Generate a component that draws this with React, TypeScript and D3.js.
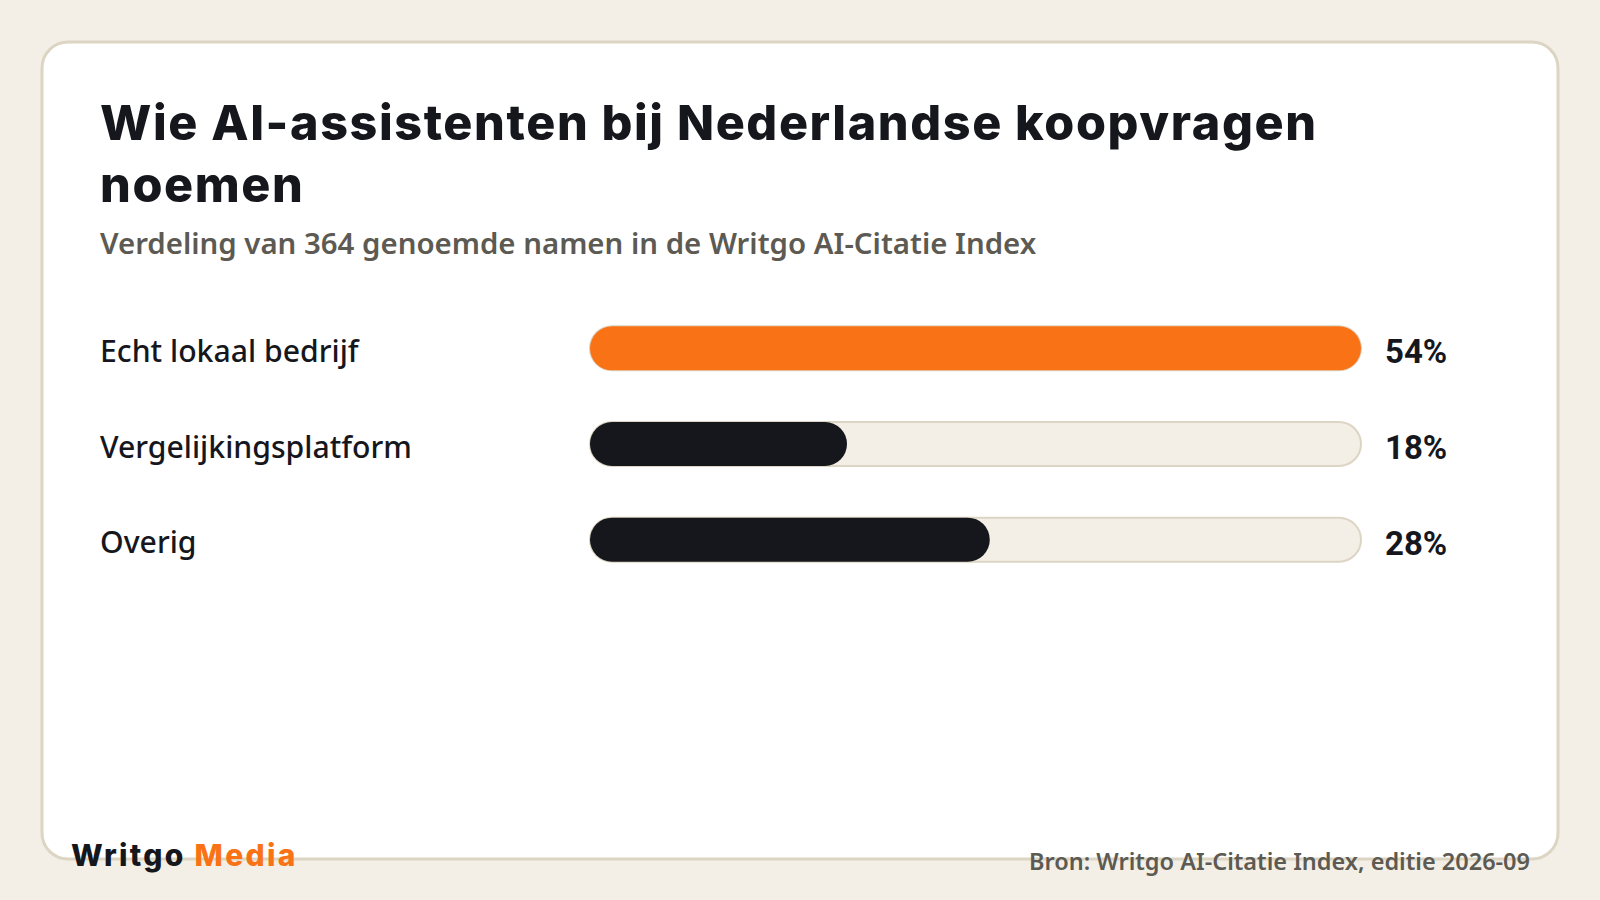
import React from "react";
import * as d3 from "d3";

const categories = ["Echt lokaal bedrijf", "Vergelijkingsplatform", "Overig"];
const shares = [54, 18, 28];
const valueLabels = ["54%", "18%", "28%"];
const titleLines = ["Wie AI-assistenten bij Nederlandse koopvragen", "noemen"];
const subtitle = "Verdeling van 364 genoemde namen in de Writgo AI-Citatie Index";
const sourceText = "Bron: Writgo AI-Citatie Index, editie 2026-09";

const W = 1600;
const H = 900;
const ORANGE = "#f97316";
const DARK = "#16171d";
const BG = "#f3efe7";
const BORDER = "#ddd5c3";

export default function App() {
  React.useEffect(() => {
    document.body.style.margin = "0";
    document.body.style.background = BG;
  }, []);

  const x = d3.scaleLinear().domain([0, d3.max(shares) as number]).range([590, 1361]);
  const y = d3.scaleBand<string>().domain(categories).range([300, 588]).paddingInner(0.53).paddingOuter(0.27);
  const bh = 44;

  return (
    <svg width={W} height={H} style={{ display: "block" }}>
      <rect x={0} y={0} width={W} height={H} fill={BG} />
      <rect x={42} y={42} width={1516} height={817} rx={26} ry={26} fill="#ffffff" stroke={BORDER} strokeWidth={3} />
      <g fontFamily="Inter" fontWeight={800} fill={DARK} fontSize={48.5} letterSpacing={1.6}>
        {titleLines.map((t, i) => (
          <text key={i} x={100} y={140 + i * 62}>{t}</text>
        ))}
      </g>
      <text x={100} y={254} fontFamily="Noto Sans" fontWeight={600} fontSize={29.4} fill="#5c5a52">{subtitle}</text>
      {categories.map((c, i) => {
        const cy = (y(c) as number) + y.bandwidth() / 2;
        const x0 = x(0);
        const x1 = x(shares[i]);
        const x1max = x(d3.max(shares) as number);
        return (
          <g key={c}>
            <text x={100} y={cy + 13.5} fontFamily="Noto Sans" fontWeight={500} fontSize={30.2} fill={DARK}>{c}</text>
            <rect x={x0} y={cy - bh / 2} width={x1max - x0} height={bh} rx={bh / 2} fill={BG} stroke={BORDER} strokeWidth={2} />
            <rect x={x0} y={cy - bh / 2} width={x1 - x0} height={bh} rx={bh / 2} fill={i === 0 ? ORANGE : DARK} />
            <text x={1385} y={cy + 15} fontFamily="Roboto" fontWeight={700} fontSize={33} fill={DARK}>{valueLabels[i]}</text>
          </g>
        );
      })}
      <text x={71} y={866} fontFamily="Inter" fontWeight={800} fontSize={30} letterSpacing={2.3}>
        <tspan fill={DARK}>Writgo </tspan>
        <tspan fill={ORANGE}>Media</tspan>
      </text>
      <text x={1530} y={870} textAnchor="end" fontFamily="Noto Sans" fontWeight={600} fontSize={23.5} fill="#5c5a52">{sourceText}</text>
    </svg>
  );
}
